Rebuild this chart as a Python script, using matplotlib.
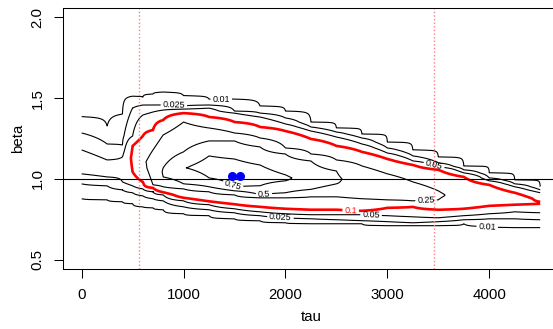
import numpy as np
import matplotlib
matplotlib.use("Agg")
import matplotlib.pyplot as plt

plt.rcParams['font.family'] = ['Liberation Sans', 'DejaVu Sans']

nan = np.nan

# ---- data -----------------------------------------------------------------
# tau columns of the p-value surface
tau = [0, 250, 400, 500, 600, 700, 800, 1000, 1250, 1500, 1750, 2000, 2250,
       2500, 2750, 3000, 3250, 3500, 3750, 4000, 4250, 4500]

# contour levels
levels = [0.01, 0.025, 0.05, 0.1, 0.25, 0.5, 0.75]

# beta where each level is crossed above the ridge (per tau column)
up_010 = [1.385, 1.327, 1.401, 1.512, 1.506, 1.525, 1.537, 1.515, 1.494, 1.494, 1.451,
          1.420, 1.352, 1.315, 1.278, 1.228, 1.179, 1.136, 1.080, 1.037, 0.994, 0.951]
up_025 = [1.284, 1.216, 1.210, 1.438, 1.457, 1.457, 1.457, 1.451, 1.457, 1.420, 1.407,
          1.377, 1.321, 1.290, 1.253, 1.191, 1.142, 1.099, 1.056, 1.006, 0.969, 0.932]
up_050 = [1.179, 1.117, 1.136, 1.265, 1.395, 1.414, 1.426, 1.432, 1.438, 1.407, 1.383,
          1.340, 1.296, 1.259, 1.216, 1.160, 1.111, 1.074, 1.037, 0.988, 0.951, 0.914]
up_100 = [nan, nan, nan, 1.204, 1.265, 1.302, 1.364, 1.407, 1.383, 1.352, 1.321,
          1.296, 1.247, 1.204, 1.167, 1.123, 1.086, 1.056, 1.012, 0.963, 0.914, 0.858]
up_250 = [nan, nan, nan, nan, nan, 1.179, 1.272, 1.352, 1.315, 1.284, 1.253,
          1.191, 1.154, 1.117, 1.080, 1.031, 0.981, 0.926, nan, nan, nan, nan]
up_500 = [nan, nan, nan, nan, nan, nan, 1.068, 1.167, 1.235, 1.235, 1.198,
          1.154, 1.111, 1.049, nan, nan, nan, nan, nan, nan, nan, nan]
up_750 = [nan, nan, nan, nan, nan, nan, nan, nan, 1.142, 1.123, 1.086,
          1.025, nan, nan, nan, nan, nan, nan, nan, nan, nan, nan]

# beta where each level is crossed below the ridge
lo_010 = [0.877, 0.870, 0.858, 0.846, 0.827, 0.821, 0.809, 0.784, 0.772, 0.753, 0.741,
          0.728, 0.722, 0.722, 0.722, 0.710, 0.710, 0.710, 0.722, 0.704, 0.698, 0.698]
lo_025 = [0.969, 0.957, 0.932, 0.914, 0.895, 0.877, 0.864, 0.827, 0.809, 0.790, 0.772,
          0.759, 0.753, 0.747, 0.741, 0.735, 0.728, 0.735, 0.747, 0.753, 0.753, 0.747]
lo_050 = [1.031, 1.012, 0.981, 0.957, 0.938, 0.920, 0.901, 0.864, 0.840, 0.815, 0.796,
          0.784, 0.778, 0.778, 0.778, 0.772, 0.765, 0.759, 0.772, 0.784, 0.796, 0.790]
lo_100 = [nan, nan, nan, 1.043, 0.981, 0.944, 0.917, 0.883, 0.861, 0.843, 0.827,
          0.815, 0.809, 0.809, 0.802, 0.821, 0.827, 0.809, 0.815, 0.833, 0.840, 0.846]
lo_250 = [nan, nan, nan, nan, nan, 0.963, 0.951, 0.938, 0.920, 0.901, 0.883,
          0.883, 0.889, 0.889, 0.877, 0.870, 0.864, 0.870, nan, nan, nan, nan]
lo_500 = [nan, nan, nan, nan, nan, nan, 1.012, 0.969, 0.951, 0.926, 0.901,
          0.914, 0.935, 0.969, nan, nan, nan, nan, nan, nan, nan, nan]
lo_750 = [nan, nan, nan, nan, nan, nan, nan, nan, 1.006, 0.951, 0.957,
          0.988, nan, nan, nan, nan, nan, nan, nan, nan, nan, nan]

# ridge top of each column
peak_val = [0.07, 0.07, 0.055, 0.11, 0.22, 0.35, 0.52, 0.74, 0.85, 0.90, 0.85,
            0.78, 0.68, 0.53, 0.45, 0.40, 0.33, 0.27, 0.20, 0.17, 0.14, 0.11]
peak_beta = [1.105, 1.068, 1.056, 1.130, 1.105, 1.068, 1.043, 1.068, 1.080, 1.031, 1.019,
             1.006, 0.994, 1.000, 0.969, 0.951, 0.926, 0.901, 0.895, 0.889, 0.877, 0.852]

# estimates (blue points)
est_tau = [1478, 1553]
est_beta = [1.02, 1.02]

# reference lines
vline_tau = [560, 3460]
hline_beta = [1.0]

# ---- build the surface -----------------------------------------------------
upper = [up_010, up_025, up_050, up_100, up_250, up_500, up_750]
lower = [lo_010, lo_025, lo_050, lo_100, lo_250, lo_500, lo_750]
beta_grid = np.linspace(0.5, 2.0, 751)
Z = np.zeros((beta_grid.size, len(tau)))
for j in range(len(tau)):
    kb, kv = [0.5], [0.0]
    for lev, arr in zip(levels, lower):
        if not np.isnan(arr[j]):
            kb.append(arr[j]); kv.append(lev)
    kb.append(peak_beta[j]); kv.append(peak_val[j])
    for lev, arr in reversed(list(zip(levels, upper))):
        if not np.isnan(arr[j]):
            kb.append(arr[j]); kv.append(lev)
    kb.append(2.0); kv.append(0.0)
    Z[:, j] = np.interp(beta_grid, kb, kv)

# ---- figure ----------------------------------------------------------------
fig = plt.figure(figsize=(5.53, 3.29), dpi=100)
ax = fig.add_axes([0.1145, 0.1815, 0.8955, 0.7951])
ax.set_xlim(-180, 4680)
ax.set_ylim(0.44, 2.06)

label_pos = {
    0.01: [(1370, 1.49), (3980, 0.70)],
    0.025: [(905, 1.45), (1950, 0.75)],
    0.05: [(3450, 1.07), (2840, 0.77)],
    0.1: [(2640, 0.80)],
    0.25: [(3380, 0.87)],
    0.5: [(1790, 0.895)],
    0.75: [(1480, 0.955)],
}

for lev in levels:
    red = lev == 0.1
    cs = ax.contour(tau, beta_grid, Z, levels=[lev],
                    colors='red' if red else 'black',
                    linewidths=1.9 if red else 0.8)
    cs.clabel(manual=label_pos[lev], inline=True, inline_spacing=2,
              fontsize=6.5, fmt=lambda v: f'{v:g}')

for t in vline_tau:
    ax.axvline(t, color=(1, 0.5, 0.5), linestyle=(0, (1, 1.6)), linewidth=1.0)
for b in hline_beta:
    ax.axhline(b, color='black', linewidth=0.8)

ax.plot(est_tau, est_beta, 'o', color='#0000ff', markersize=5.5, zorder=5)

ax.set_xticks([0, 1000, 2000, 3000, 4000])
ax.set_xticklabels(['0', '1000', '2000', '3000', '4000'])
ax.set_yticks([0.5, 1.0, 1.5, 2.0])
ax.set_yticklabels(['0.5', '1.0', '1.5', '2.0'], rotation=90, va='center')
ax.tick_params(direction='out', length=6.5, width=0.75, labelsize=10.8, pad=7)
for s in ax.spines.values():
    s.set_linewidth(0.75)
ax.set_xlabel('tau', fontsize=10.8, labelpad=6)
ax.set_ylabel('beta', fontsize=10.8, labelpad=4)

fig.savefig('out.png', dpi=100)
